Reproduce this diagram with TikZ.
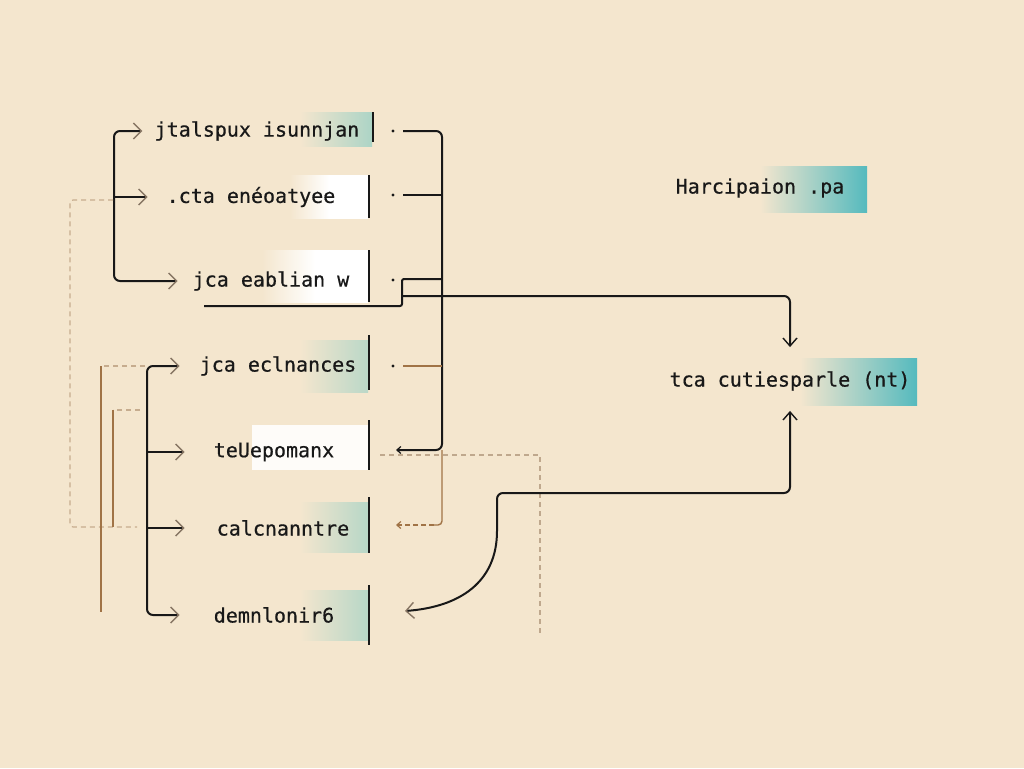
\documentclass[tikz,border=0pt]{standalone}
\usepackage{fontspec}
\setmonofont[FakeBold=0.6]{DejaVu Sans Mono}
\usetikzlibrary{arrows.meta}
\definecolor{paper}{RGB}{244,230,206}
\definecolor{ink}{RGB}{24,24,24}
\definecolor{tipgray}{RGB}{135,118,100}
\definecolor{wire}{RGB}{160,115,70}
\definecolor{tan}{RGB}{198,172,142}
\definecolor{mint}{RGB}{172,212,198}
\definecolor{tealbox}{RGB}{85,186,190}

\begin{document}
\begin{tikzpicture}[x=1pt,y=-1pt,
  every node/.style={font=\ttfamily\fontsize{20}{24}\selectfont,text=ink,inner sep=0pt},
  trunk/.style={ink,line width=2pt,rounded corners=6pt},
  bar/.style={ink,line width=2.4pt},
  wire/.style={draw=wire,line width=1.4pt},
  faint/.style={draw=tan,line width=1.1pt,dash pattern=on 5pt off 4pt},
  barb/.tip={Straight Barb[length=8pt,width=16pt,line width=1.4pt,color=tipgray]},
  nib/.tip={Straight Barb[length=4pt,width=7pt,line width=1.2pt]},
  upbarb/.tip={Straight Barb[length=8pt,width=14pt,line width=1.4pt,color=ink]}]

\fill[paper] (0,0) rectangle (1024,768);
\useasboundingbox (0,0) rectangle (1024,768);

%boxes behind the labels
\shade[left color=paper,right color=mint] (300,112) rectangle (372,146);
\shade[left color=paper,right color=white,middle color=white] (290,175) rectangle (368,218);
\shade[left color=paper,right color=white,middle color=white] (262,250) rectangle (368,302);
\shade[left color=paper,right color=mint!80!paper] (300,340) rectangle (368,392);
\fill[white!88!paper] (252,425) rectangle (368,470);
\shade[left color=paper,right color=mint!85!paper] (300,502) rectangle (368,552);
\shade[left color=paper,right color=mint!85!paper] (300,590) rectangle (368,640);
\shade[left color=paper,right color=tealbox] (760,166) rectangle (867,212);
\shade[left color=paper,right color=tealbox] (800,358) rectangle (917,405);

%labels
\node (n1) at (257,131) {jtalspux isunnjan};
\node (n2) at (251,197) {.cta enéoatyee};
\node (n3) at (271,281) {jca eablian w};
\node (n4) at (278,366) {jca eclnances};
\node (n5) at (274,452) {teUepomanx};
\node (n6) at (283,528) {calcnanntre};
\node (n7) at (274,615) {demnlonir6};
\node (r1) at (760,188) {Harcipaion .pa};
\node (r2) at (790,381) {tca cutiesparle (nt)};

%bars
\draw[bar] (373,112) -- (373,142);
\draw[bar] (369,175) -- (369,218);
\draw[bar] (369,250) -- (369,302);
\draw[bar] (369,335) -- (369,390);
\draw[bar] (369,420) -- (369,470);
\draw[bar] (369,497) -- (369,553);
\draw[bar] (369,585) -- (369,645);

%left trees
\draw[trunk,barb-barb] ([xshift=-12pt]n1.west) -| (114,200) |- ([xshift=-15pt]n3.west);
\draw[trunk,-barb] (114,197) -- ([xshift=-19pt]n2.west);
\draw[trunk,barb-barb] ([xshift=-20pt]n4.west) -| (147,480) |- ([xshift=-34pt]n7.west);
\draw[trunk,-barb] (147,452) -- ([xshift=-29pt]n5.west);
\draw[trunk,-barb] (147,528) -- ([xshift=-32pt]n6.west);

%side wires
\draw[faint,rounded corners=3pt] (113,200) -| (70,400) |- (137,527);
\draw[faint] (145,366) -- (101,366);
\draw[wire] (101,366) -- (101,612);
\draw[faint] (140,410) -- (113,410);
\draw[wire] (113,410) -- (113,527);

%right side
\coordinate (d1) at (393,131);
\coordinate (d2) at (393,195);
\coordinate (d3) at (393,280);
\coordinate (d4) at (393,366);
\coordinate (u3) at (204,306);
\foreach \d in {d1,d2,d3,d4}
  \fill[ink] (\d) circle (1.7);

\draw[trunk,-nib] ([xshift=10pt]d1) -| (442,300) |- (396,450);
\draw[trunk] ([xshift=10pt]d2) -- (442,195);
\draw[trunk,rounded corners=2pt] (u3) -- (402,306) -- (402,279) -- (442,279);
\draw[wire] ([xshift=10pt]d4) -- (442,366);
\draw[wire,rounded corners=4pt] (442,450) -- (442,525) -- (434,525);
\draw[wire,dash pattern=on 5pt off 3pt,-nib] (434,525) -- (396,525);
\draw[faint,draw=tan!90!gray] (380,455) -| (540,635);

%links to the right label
\draw[trunk,-upbarb] (402,296) -| ([yshift=24pt]r2.north);
\draw[trunk,upbarb-barb] ([yshift=-20pt]r2.south) -- (790,493) -- (497,493) -- (497,525)
  .. controls (497,582) and (460,607) .. (405,611);

\end{tikzpicture}
\end{document}
